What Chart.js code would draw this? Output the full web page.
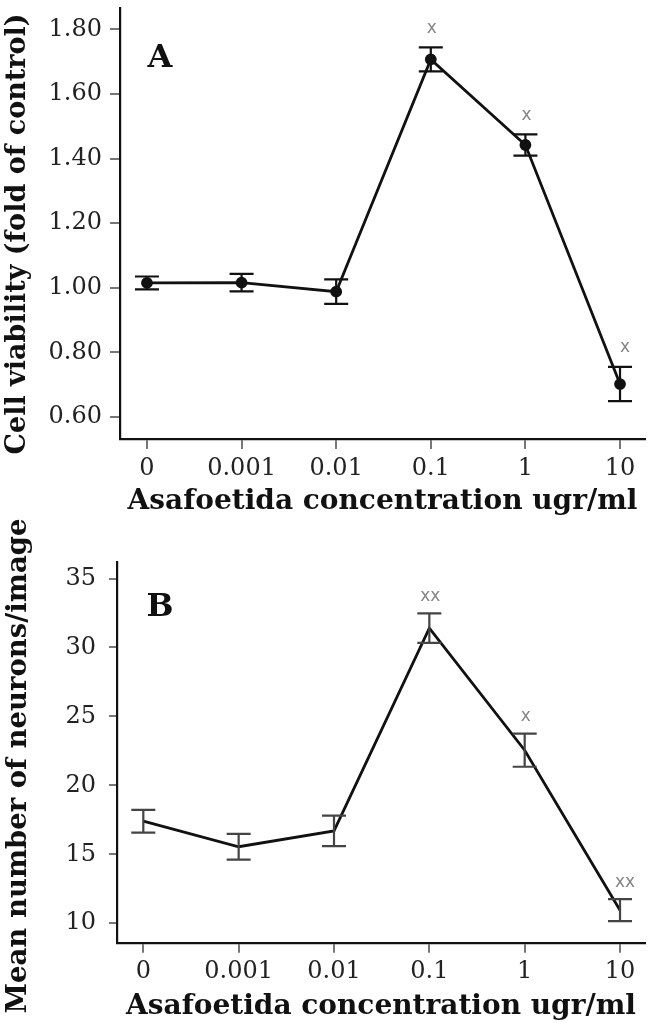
<!DOCTYPE html>
<html><head><meta charset="utf-8">
<script src="https://cdn.jsdelivr.net/npm/chart.js@4.4.1/dist/chart.umd.min.js"></script>
<style>
html,body{margin:0;padding:0;background:#fff;}
#wrap{position:relative;width:656px;height:1026px;overflow:hidden;background:#fff;}
#cA{position:absolute;left:0;top:0;}
#cB{position:absolute;left:0;top:500px;}
</style></head><body>
<div id="wrap"><canvas id="cA" width="656" height="520"></canvas><canvas id="cB" width="656" height="526"></canvas></div>
<script>
// ---- data ----
const concentrationLabels = ['0', '0.001', '0.01', '0.1', '1', '10'];
const viabilityMean = [1.015, 1.016, 0.988, 1.707, 1.442, 0.702];
const viabilityErr  = [0.020, 0.027, 0.038, 0.037, 0.033, 0.053];
const viabilitySig  = ['', '', '', 'x', 'x', 'x'];
const viabilityTicks = [0.6, 0.8, 1.0, 1.2, 1.4, 1.6, 1.8];
const neuronMean = [17.4, 15.55, 16.7, 31.4, 22.55, 10.95];
const neuronErr  = [0.82, 0.93, 1.10, 1.07, 1.20, 0.80];
const neuronSig  = ['', '', '', 'xx', 'x', 'xx'];
const neuronTicks = [10, 15, 20, 25, 30, 35];
const xTitle = 'Asafoetida concentration ugr/ml';
const yTitleA = 'Cell viability (fold of control)';
const yTitleB = 'Mean number of neurons/image';

const SERIF = '"DejaVu Serif", "Liberation Serif", serif';

const deco = {
  id: 'deco',
  afterDatasetsDraw(chart, args, o) {
    const ctx = chart.ctx, xs = chart.scales.x, ys = chart.scales.y;
    ctx.save();
    ctx.strokeStyle = o.errColor; ctx.lineWidth = o.errWidth;
    o.mean.forEach((m, i) => {
      const px = xs.getPixelForValue(i);
      const top = ys.getPixelForValue(m + o.err[i]);
      const bot = ys.getPixelForValue(m - o.err[i]);
      ctx.beginPath();
      ctx.moveTo(px, top); ctx.lineTo(px, bot);
      ctx.moveTo(px - o.cap, top); ctx.lineTo(px + o.cap, top);
      ctx.moveTo(px - o.cap, bot); ctx.lineTo(px + o.cap, bot);
      ctx.stroke();
      if (o.sig[i]) {
        ctx.fillStyle = '#858585';
        ctx.font = '17px "DejaVu Sans", sans-serif';
        ctx.textAlign = 'center'; ctx.textBaseline = 'middle';
        const dx = i === o.mean.length - 1 ? 5 : 1;
        ctx.fillText(o.sig[i], px + dx, top - o.sigGap);
      }
    });
    ctx.fillStyle = '#111';
    ctx.font = 'bold 32px ' + SERIF;
    ctx.textAlign = 'center'; ctx.textBaseline = 'middle';
    ctx.fillText(o.letter, o.letterX, o.letterY);
    ctx.translate(o.ytX, o.ytY);
    ctx.rotate(-Math.PI / 2);
    ctx.font = 'bold ' + o.ytSize + 'px ' + SERIF;
    ctx.fillText(o.ytitle, 0, 0);
    ctx.restore();
  }
};

function makeChart(id, cfg) {
  return new Chart(document.getElementById(id), {
    type: 'line',
    data: {
      datasets: [{
        data: cfg.mean.map((v, i) => ({ x: i, y: v })),
        borderColor: '#111',
        borderWidth: 2.8,
        pointRadius: cfg.pointRadius,
        pointBackgroundColor: '#111',
        pointBorderColor: '#111',
        tension: 0,
        fill: false
      }]
    },
    options: {
      responsive: false,
      animation: false,
      layout: { padding: { top: cfg.padTop, right: 11, left: 0, bottom: 0 } },
      plugins: {
        legend: { display: false },
        tooltip: { enabled: false },
        deco: {
          mean: cfg.mean, err: cfg.err, sig: cfg.sig, cap: 12,
          errColor: cfg.errColor, errWidth: 2.2, sigGap: cfg.sigGap,
          letter: cfg.letter, letterX: 160, letterY: cfg.letterY,
          ytitle: cfg.ytitle, ytX: cfg.ytX, ytY: cfg.ytY, ytSize: cfg.ytSize
        }
      },
      scales: {
        x: {
          type: 'linear',
          min: cfg.xMin, max: cfg.xMax,
          afterBuildTicks: s => { s.ticks = concentrationLabels.map((_, i) => ({ value: i })); },
          afterFit: s => { s.height = cfg.xHeight; s.paddingLeft = 0; s.paddingRight = 0; },
          ticks: {
            callback: v => concentrationLabels[v],
            font: { family: SERIF, size: 24 },
            color: '#222',
            padding: 5,
            maxRotation: 0, autoSkip: false
          },
          grid: { drawOnChartArea: false, drawTicks: true, tickLength: 10, color: '#777', lineWidth: 2 },
          border: { display: true, color: '#111', width: 2.2 },
          title: {
            display: true, text: xTitle, color: '#111',
            font: { family: SERIF, size: 28, weight: 'bold' },
            padding: { top: 0, bottom: cfg.xTitlePad }
          }
        },
        y: {
          type: 'linear',
          min: cfg.yMin, max: cfg.yMax,
          afterBuildTicks: s => { s.ticks = cfg.yTicks.map(v => ({ value: v })); },
          afterFit: s => { s.width = cfg.yWidth; s.paddingTop = 0; s.paddingBottom = 0; },
          ticks: {
            callback: cfg.yFmt,
            font: { family: SERIF, size: 24 },
            color: '#222',
            padding: cfg.yPad
          },
          grid: { drawOnChartArea: false, drawTicks: true, tickLength: cfg.yTick, color: '#777', lineWidth: 2 },
          border: { display: true, color: '#111', width: 2.2 }
        }
      }
    },
    plugins: [deco]
  });
}

makeChart('cA', {
  mean: viabilityMean, err: viabilityErr, sig: viabilitySig, yTicks: viabilityTicks,
  yFmt: v => Number(v).toFixed(2),
  yMin: 0.532, yMax: 1.866, xMin: -0.285, xMax: 5.264,
  padTop: 8, yWidth: 120, xHeight: 81, xTitlePad: 1.5, yPad: 8, yTick: 10,
  pointRadius: 4.5, errColor: '#111', sigGap: 19,
  letter: 'A', letterY: 59, ytitle: yTitleA, ytX: 18, ytY: 234, ytSize: 27
});

makeChart('cB', {
  mean: neuronMean, err: neuronErr, sig: neuronSig, yTicks: neuronTicks,
  yFmt: v => String(v),
  yMin: 8.59, yMax: 36.2, xMin: -0.276, xMax: 5.262,
  padTop: 62, yWidth: 117, xHeight: 83.3, xTitlePad: 2, yPad: 13, yTick: 8,
  pointRadius: 0, errColor: '#444', sigGap: 17,
  letter: 'B', letterY: 108, ytitle: yTitleB, ytX: 19, ytY: 266, ytSize: 27.5
});
</script>
</body></html>
